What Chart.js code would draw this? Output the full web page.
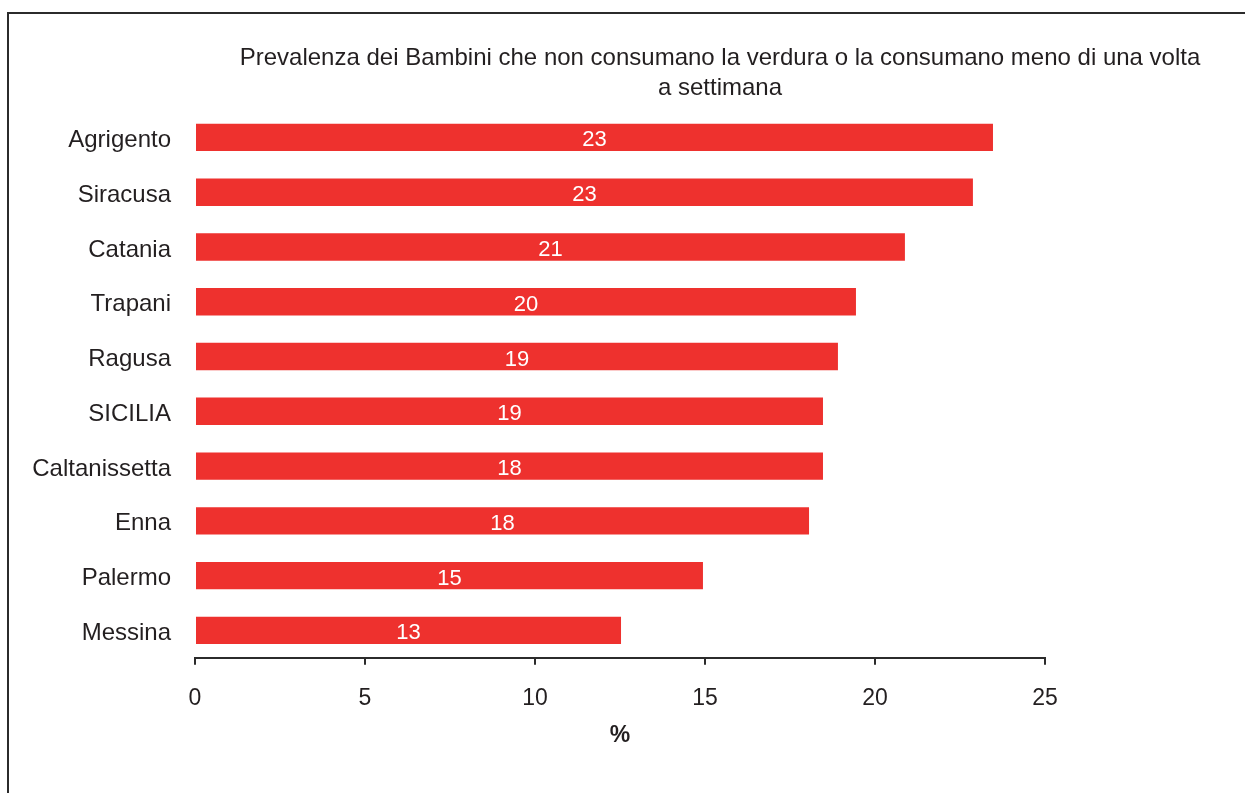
<!DOCTYPE html>
<html>
<head>
<meta charset="utf-8">
<script src="https://cdn.jsdelivr.net/npm/chart.js@4.4.0/dist/chart.umd.min.js"></script>
<style>
  html, body { margin: 0; padding: 0; background: #fff; overflow: hidden; width: 1245px; height: 793px; }
  #frame { position: absolute; left: 7px; top: 12px; width: 1400px; height: 900px; border-left: 2px solid #2b2b2b; border-top: 2px solid #2b2b2b; }
  #chart { position: absolute; left: 0; top: 0; }
</style>
</head>
<body>
<div id="frame"></div>
<canvas id="chart" width="1245" height="793"></canvas>
<script>
const provinces = ['Agrigento', 'Siracusa', 'Catania', 'Trapani', 'Ragusa', 'SICILIA', 'Caltanissetta', 'Enna', 'Palermo', 'Messina'];
const prevalence = [23.47, 22.88, 20.88, 19.44, 18.91, 18.47, 18.47, 18.06, 14.94, 12.53];
const valueLabels = ['23', '23', '21', '20', '19', '19', '18', '18', '15', '13'];
const xTicks = [0, 5, 10, 15, 20, 25];

const textColor = '#231f20';
const fontFamily = '"Liberation Sans", Arial, sans-serif';

// white number in the middle of each bar
const barLabels = {
  id: 'barLabels',
  afterDatasetsDraw(chart) {
    const ctx = chart.ctx;
    const meta = chart.getDatasetMeta(0);
    ctx.save();
    ctx.fillStyle = '#ffffff';
    ctx.font = '22px ' + fontFamily;
    ctx.textAlign = 'center';
    ctx.textBaseline = 'middle';
    meta.data.forEach((bar, i) => {
      ctx.fillText(valueLabels[i], (bar.x + bar.base) / 2, bar.y + 3);
    });
    ctx.restore();
  }
};

// title is centred between the plot's left edge and the canvas right edge
const titleShift = {
  id: 'titleShift',
  afterLayout(chart) {
    if (chart.titleBlock) {
      chart.titleBlock.left = chart.chartArea.left;
      chart.titleBlock.right = chart.width;
    }
  }
};

new Chart(document.getElementById('chart'), {
  type: 'bar',
  data: {
    labels: provinces,
    datasets: [{
      data: prevalence,
      backgroundColor: 'rgb(238, 49, 46)',
      borderWidth: 0,
      barPercentage: 0.5,
      categoryPercentage: 1.0
    }]
  },
  options: {
    indexAxis: 'y',
    responsive: false,
    animation: false,
    layout: { padding: { left: 0, right: 200, top: 0, bottom: 44 } },
    plugins: {
      legend: { display: false },
      tooltip: { enabled: false },
      title: {
        display: true,
        text: ['Prevalenza dei Bambini che non consumano la verdura o la consumano meno di una volta', 'a settimana'],
        color: textColor,
        font: { family: fontFamily, size: 24, weight: 'normal', lineHeight: 1.23 },
        padding: { top: 44, bottom: 7 }
      }
    },
    scales: {
      x: {
        min: 0,
        max: 25,
        afterBuildTicks: s => { s.ticks = xTicks.map(v => ({ value: v })); },
        border: { display: true, color: '#2b2b2b', width: 2 },
        grid: { display: true, drawOnChartArea: false, drawTicks: true, tickLength: 7, color: '#2b2b2b', lineWidth: 2 },
        ticks: { color: textColor, font: { family: fontFamily, size: 23 }, padding: 20, maxRotation: 0 },
        title: {
          display: true,
          text: '%',
          color: textColor,
          font: { family: fontFamily, size: 23, weight: 'bold' },
          padding: { top: -11, bottom: 0 }
        }
      },
      y: {
        afterFit: s => { s.width = 195; },
        border: { display: false },
        grid: { display: false, drawTicks: false },
        ticks: { color: textColor, font: { family: fontFamily, size: 24 }, padding: 24, labelOffset: 3 }
      }
    }
  },
  plugins: [barLabels, titleShift]
});
</script>
</body>
</html>
